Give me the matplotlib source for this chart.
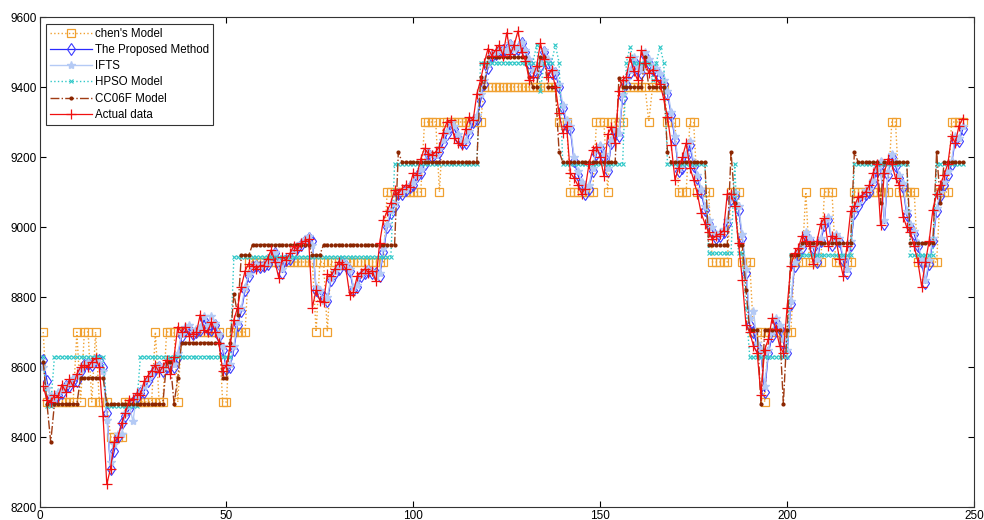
import matplotlib
matplotlib.use("Agg")
import matplotlib.pyplot as plt

plt.rcParams['font.family'] = ['Liberation Sans', 'DejaVu Sans']

actual = [8545,8505,8500,8520,8515,8550,8530,8565,8545,8580,
8600,8605,8600,8615,8625,8600,8460,8265,8310,8385,
8400,8440,8470,8505,8510,8525,8520,8560,8575,8590,
8605,8585,8600,8620,8580,8630,8715,8700,8715,8690,
8695,8700,8750,8705,8700,8730,8700,8670,8590,8605,
8660,8735,8770,8830,8875,8895,8890,8880,8890,8890,
8910,8935,8900,8855,8915,8905,8925,8945,8935,8955,
8960,8965,8770,8820,8790,8785,8865,8860,8880,8900,
8895,8880,8805,8815,8860,8870,8880,8870,8875,8845,
8955,9020,9045,9070,9105,9095,9110,9120,9115,9155,
9150,9195,9225,9210,9205,9215,9230,9270,9300,9305,
9255,9240,9235,9280,9315,9305,9380,9420,9470,9510,
9490,9505,9520,9490,9555,9495,9520,9560,9500,9475,
9420,9430,9460,9525,9480,9430,9450,9400,9325,9270,
9290,9155,9140,9120,9095,9110,9180,9220,9230,9200,
9145,9265,9285,9240,9390,9420,9430,9485,9445,9420,
9505,9470,9440,9450,9420,9410,9365,9315,9235,9135,
9170,9200,9240,9170,9135,9095,9040,9010,8985,8965,
8975,8980,8990,9095,9095,9060,8955,8850,8720,8700,
8660,8640,8520,8650,8680,8740,8710,8660,8640,8770,
8890,8925,8940,8975,8960,8945,8895,8960,9010,9025,
8945,8975,8970,8910,8860,8945,9045,9060,9085,9090,
9100,9120,9155,9180,9005,9155,9195,9180,9140,9120,
9030,9000,8985,8945,8900,8830,8900,8960,9050,9095,
9120,9150,9180,9260,9240,9290,9310]

proposed = [8620,8560,8510,8505,8520,8525,8545,8545,8560,8560,
8590,8605,8610,8605,8620,8620,8600,8470,8310,8360,
8400,8440,8460,8480,8500,8515,8525,8530,8560,8580,
8595,8600,8590,8600,8610,8600,8630,8690,8705,8710,
8695,8700,8705,8735,8710,8705,8720,8690,8650,8595,
8600,8650,8720,8760,8820,8860,8885,8890,8885,8890,
8895,8915,8925,8895,8870,8905,8910,8930,8940,8950,
8960,8970,8960,8820,8810,8800,8790,8850,8870,8880,
8900,8890,8875,8820,8830,8860,8870,8875,8870,8870,
8860,8930,9000,9040,9060,9095,9095,9105,9115,9120,
9145,9155,9180,9210,9200,9195,9215,9240,9265,9290,
9280,9255,9240,9240,9265,9300,9310,9360,9410,9455,
9490,9495,9500,9505,9500,9520,9505,9510,9525,9500,
9470,9440,9440,9460,9500,9470,9440,9440,9400,9340,
9290,9280,9190,9150,9120,9095,9110,9160,9210,9225,
9200,9160,9240,9270,9260,9370,9410,9440,9475,9450,
9440,9490,9470,9450,9445,9430,9410,9380,9320,9250,
9160,9170,9200,9235,9175,9140,9100,9050,9010,8990,
8970,8975,8985,9010,9080,9090,9050,8970,8870,8720,
8700,8660,8640,8530,8640,8690,8730,8710,8670,8640,
8780,8890,8920,8940,8975,8960,8940,8900,8960,9005,
9020,8950,8970,8960,8905,8870,8950,9040,9060,9080,
9095,9100,9125,9160,9180,9010,9150,9200,9175,9140,
9115,9035,9000,8980,8945,8900,8840,8895,8960,9045,
9090,9120,9150,9180,9250,9245,9280]

ifts = [8600,8540,8520,8510,8530,8535,8550,8555,8570,8575,
8595,8610,8615,8610,8625,8615,8590,8450,8330,8380,
8410,8410,8470,8490,8445,8520,8530,8545,8565,8585,
8600,8605,8595,8610,8615,8610,8640,8695,8715,8720,
8700,8710,8715,8745,8720,8745,8725,8695,8660,8610,
8610,8660,8730,8770,8830,8865,8890,8895,8890,8895,
8900,8920,8930,8900,8880,8910,8915,8935,8945,8955,
8965,8975,8950,8830,8820,8790,8800,8855,8875,8885,
8905,8895,8880,8830,8835,8865,8875,8880,8875,8860,
8870,8940,9010,9050,9070,9100,9100,9110,9120,9130,
9150,9165,9190,9215,9210,9205,9225,9250,9275,9300,
9290,9265,9250,9250,9275,9310,9320,9380,9420,9465,
9495,9500,9505,9510,9505,9525,9510,9515,9530,9505,
9480,9450,9450,9470,9505,9480,9450,9445,9410,9350,
9305,9290,9200,9160,9130,9105,9120,9170,9220,9235,
9210,9170,9250,9280,9270,9380,9420,9450,9485,9460,
9450,9500,9480,9460,9455,9440,9420,9390,9330,9260,
9170,9180,9210,9245,9185,9150,9110,9060,9020,9000,
8980,8985,8995,9020,9090,9100,9060,8980,8880,8740,
8760,8670,8650,8545,8650,8700,8740,8720,8680,8650,
8790,8900,8930,8950,8985,8970,8950,8910,8970,9015,
9030,8960,8980,8970,8915,8880,8960,9050,9070,9090,
9105,9110,9135,9170,9190,9020,9160,9210,9185,9150,
9125,9045,9010,8990,8955,8910,8850,8905,8970,9055,
9100,9130,9160,9190,9260,9255,9290]

chen = [8700,8500,8500,8500,8500,8500,8500,8500,8500,8700,
8500,8700,8700,8500,8700,8500,8500,8500,8400,8400,
8400,8400,8500,8500,8500,8500,8500,8500,8500,8500,
8700,8500,8500,8700,8700,8700,8500,8700,8700,8700,
8700,8700,8700,8700,8700,8700,8700,8700,8500,8500,
8700,8700,8700,8700,8700,8900,8900,8900,8900,8900,
8900,8900,8900,8900,8900,8900,8900,8900,8900,8900,
8900,8900,8900,8700,8900,8900,8700,8900,8900,8900,
8900,8900,8900,8900,8900,8900,8900,8900,8900,8900,
8900,8900,9100,9100,9100,9100,9100,9100,9100,9100,
9100,9100,9300,9300,9300,9300,9100,9300,9300,9300,
9300,9300,9300,9300,9300,9300,9300,9300,9400,9400,
9400,9400,9400,9400,9400,9400,9400,9400,9400,9400,
9400,9400,9400,9400,9400,9400,9400,9400,9300,9300,
9300,9100,9100,9100,9100,9100,9100,9100,9300,9300,
9300,9100,9300,9300,9300,9300,9400,9400,9400,9400,
9400,9400,9300,9400,9400,9400,9400,9300,9300,9300,
9100,9100,9100,9300,9300,9100,9100,9100,9100,8900,
8900,8900,8900,8900,9100,9100,9100,8900,8900,8900,
8700,8700,8700,8500,8700,8700,8700,8700,8700,8700,
8700,8900,8900,8900,9100,8900,8900,8900,8900,9100,
9100,9100,8900,8900,8900,8900,8900,9100,9100,9100,
9100,9100,9100,9100,9100,9100,9100,9300,9300,9100,
9100,9100,9100,9100,8900,8900,8900,8900,8900,8900,
9100,9100,9100,9300,9300,9300,9300]

hpso = [8630,8490,8490,8630,8630,8630,8630,8630,8630,8630,
8630,8630,8630,8630,8630,8630,8630,8490,8490,8490,
8490,8490,8490,8490,8490,8490,8630,8630,8630,8630,
8630,8630,8630,8630,8630,8630,8630,8630,8630,8630,
8630,8630,8630,8630,8630,8630,8630,8630,8630,8630,
8630,8915,8915,8915,8915,8915,8915,8915,8915,8915,
8915,8915,8915,8915,8915,8915,8915,8915,8915,8915,
8915,8915,8915,8915,8915,8915,8915,8915,8915,8915,
8915,8915,8915,8915,8915,8915,8915,8915,8915,8915,
8915,8915,8915,8915,9180,9180,9180,9180,9180,9180,
9180,9180,9180,9180,9180,9180,9180,9180,9180,9180,
9180,9180,9180,9180,9180,9180,9180,9470,9470,9470,
9470,9470,9470,9470,9470,9470,9470,9470,9470,9470,
9470,9470,9520,9390,9470,9470,9470,9520,9470,9180,
9180,9180,9180,9180,9180,9180,9180,9180,9180,9180,
9180,9180,9180,9180,9180,9180,9470,9515,9470,9470,
9470,9470,9470,9420,9470,9515,9470,9180,9180,9180,
9180,9180,9180,9180,9180,9180,9180,9180,8925,8925,
8925,8925,8925,8925,8925,9180,8925,8925,8770,8630,
8630,8630,8630,8630,8630,8630,8630,8630,8630,8630,
8920,8920,8920,8920,8920,8920,8920,8920,8920,8920,
8920,8920,8920,8920,8920,8920,8920,9180,9180,9180,
9180,9180,9180,9180,9180,9180,9180,9180,9180,9180,
9180,9180,8920,8920,8920,8920,8920,8920,8920,9180,
9180,9180,9180,9180,9180,9180,9180]

cc06f = [8615,8495,8385,8495,8495,8495,8495,8495,8495,8495,
8570,8570,8570,8570,8570,8570,8570,8495,8495,8495,
8495,8495,8495,8495,8495,8495,8495,8495,8495,8495,
8495,8495,8495,8615,8615,8495,8570,8670,8670,8670,
8670,8670,8670,8670,8670,8670,8670,8670,8570,8570,
8670,8810,8750,8920,8920,8920,8950,8950,8950,8950,
8950,8950,8950,8950,8950,8950,8950,8950,8950,8950,
8950,8950,8920,8920,8920,8950,8950,8950,8950,8950,
8950,8950,8950,8950,8950,8950,8950,8950,8950,8950,
8950,8950,8950,8950,8950,9215,9185,9185,9185,9185,
9185,9185,9185,9185,9185,9185,9185,9185,9185,9185,
9185,9185,9185,9185,9185,9185,9185,9430,9400,9485,
9485,9485,9485,9485,9485,9485,9485,9485,9485,9485,
9430,9400,9400,9485,9485,9400,9400,9400,9215,9185,
9185,9185,9185,9185,9185,9185,9185,9185,9185,9185,
9185,9185,9185,9185,9425,9400,9400,9400,9400,9400,
9400,9485,9400,9400,9400,9400,9400,9215,9185,9185,
9185,9185,9185,9185,9185,9185,9185,9185,8950,8950,
8950,8950,8950,8950,9215,9070,8950,8950,8820,8705,
8705,8705,8495,8705,8705,8705,8705,8705,8495,8705,
8920,8920,8920,8955,8955,8955,8955,8955,8955,8955,
8955,8955,8955,8955,8955,8955,8955,9215,9185,9185,
9185,9185,9185,9185,9070,9185,9185,9185,9185,9185,
9185,9185,8955,8955,8955,8955,8955,8955,8955,9215,
9070,9185,9185,9185,9185,9185,9185]

labels = ["chen's Model", "The Proposed Method", "IFTS", "HPSO Model",
          "CC06F Model", "Actual data"]
xticks = [0, 50, 100, 150, 200, 250]
yticks = [8200, 8400, 8600, 8800, 9000, 9200, 9400, 9600]


def xs(s):
    return list(range(1, len(s) + 1))


fig = plt.figure(figsize=(9.84, 5.20), dpi=100)
ax = fig.add_axes([39.5 / 984, 13 / 520, (974 - 39.5) / 984, (507 - 17) / 520])

ax.plot(xs(chen), chen, linestyle=':', color='#f0a030', lw=1.0,
        marker='s', ms=6, mfc='none', mec='#f0a030', mew=0.9, label=labels[0])
ax.plot(xs(proposed), proposed, linestyle='-', color='#2a2aff', lw=0.9,
        marker='d', ms=6.5, mfc='none', mec='#3b3bff', mew=0.8, label=labels[1])
ax.plot(xs(ifts), ifts, linestyle='-', color='#b4caf5', lw=1.0,
        marker='*', ms=6, mfc='#b4caf5', mec='#b4caf5', label=labels[2])
ax.plot(xs(hpso), hpso, linestyle=':', color='#30c8c8', lw=1.0,
        marker='x', ms=3.5, mec='#30c8c8', mew=0.8, label=labels[3])
ax.plot(xs(cc06f), cc06f, linestyle='-.', color='#a03c14', lw=1.0,
        marker='.', ms=4, mfc='#8b2500', mec='#8b2500', label=labels[4])
ax.plot(xs(actual), actual, linestyle='-', color='#f01010', lw=0.9,
        marker='+', ms=7.5, mew=0.9, mec='#f01010', label=labels[5])

ax.set_xlim(0, 250)
ax.set_ylim(8200, 9600)
ax.set_xticks(xticks)
ax.set_yticks(yticks)
ax.tick_params(direction='in', length=4, width=0.8, labelsize=8.5,
               top=True, right=True, pad=2)
for sp in ax.spines.values():
    sp.set_linewidth(0.8)
    sp.set_color('#333333')

leg = ax.legend(loc='upper left', bbox_to_anchor=(6.5 / 934.5, 1 - 7 / 490),
                fontsize=8.3, frameon=True, fancybox=False, edgecolor='black',
                handlelength=3.6, handletextpad=0.3, borderpad=0.35,
                labelspacing=0.36, numpoints=1, borderaxespad=0)
leg.get_frame().set_linewidth(0.8)

fig.savefig('out.png', dpi=100)
